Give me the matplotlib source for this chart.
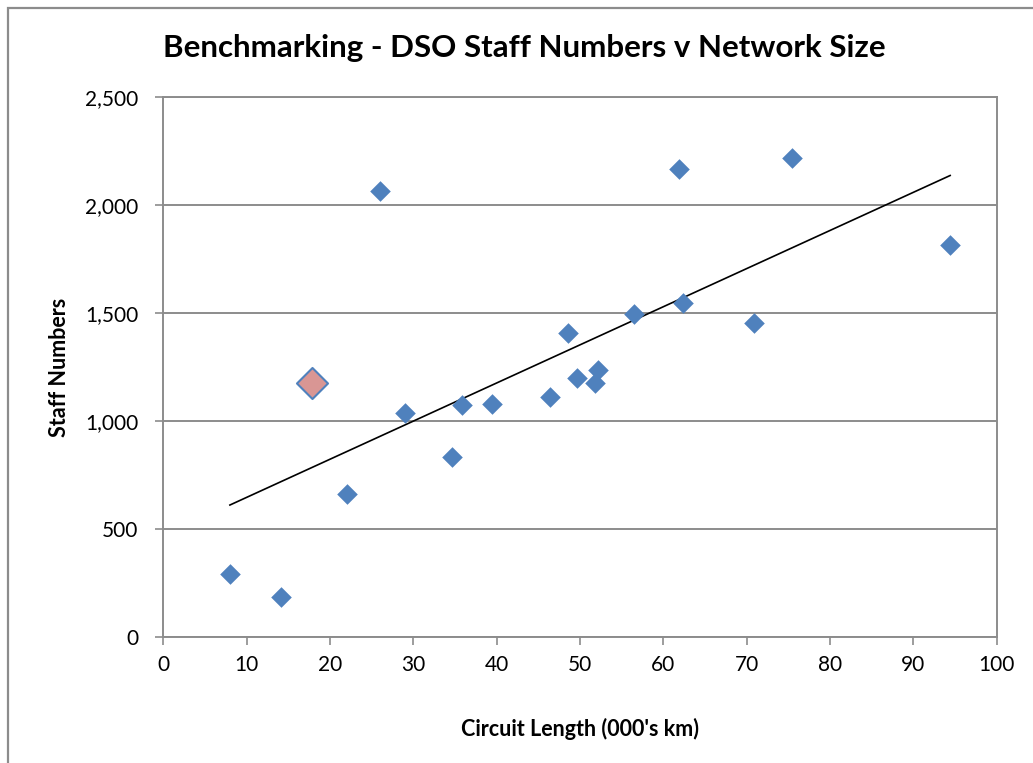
import matplotlib.pyplot as plt
import numpy as np
from matplotlib.patches import Rectangle

# circuit length (000's km) and staff numbers
circuit_km = [8.0, 14.1, 22.0, 26.0, 29.0, 34.65, 35.85, 39.5, 46.4, 48.5,
              49.6, 51.8, 52.1, 56.5, 61.9, 62.35, 70.9, 75.4, 94.4]
staff = [292, 187, 665, 2065, 1036, 835, 1074, 1079, 1110, 1408,
         1202, 1175, 1236, 1498, 2168, 1548, 1455, 2221, 1818]

# highlighted DSO
hl_km = [17.8]
hl_staff = [1175]

x_ticks = list(range(0, 101, 10))
y_ticks = [0, 500, 1000, 1500, 2000, 2500]
y_labels = ['0', '500', '1,000', '1,500', '2,000', '2,500']

plt.rcParams['font.family'] = ['Lato', 'DejaVu Sans']
grey = '#8c8c8c'
blue = '#4f81bd'

fig = plt.figure(figsize=(10.33, 7.63), dpi=100)
ax = fig.add_axes([0.158, 0.165, 0.807, 0.7075])

# outer chart border
fig.patches.append(Rectangle((8 / 1033, -0.01), 1.05, 1 - 8 / 763 + 0.01,
                             transform=fig.transFigure, fill=False,
                             edgecolor=grey, lw=1.6))

ax.scatter(circuit_km, staff, marker='D', s=110, color=blue, zorder=3, lw=0)
ax.scatter(hl_km, hl_staff, marker='D', s=250, facecolor='#d99694',
           edgecolor=blue, lw=1.5, zorder=3)

# linear trendline over all points
all_x = np.array(circuit_km + hl_km)
all_y = np.array(staff + hl_staff)
k, c = np.polyfit(all_x, all_y, 1)
tx = np.array([all_x.min(), all_x.max()])
ax.plot(tx, k * tx + c, color='black', lw=1.2, zorder=2)

ax.set_xlim(0, 100)
ax.set_ylim(0, 2500)
ax.set_xticks(x_ticks)
ax.set_yticks(y_ticks)
ax.set_yticklabels(y_labels)
ax.yaxis.grid(True, color=grey, lw=1.4)
ax.set_axisbelow(True)
for s in ax.spines.values():
    s.set_color(grey)
    s.set_linewidth(1.4)
ax.tick_params(axis='y', length=6, width=1.2, color=grey, pad=12, labelsize=15)
ax.tick_params(axis='x', length=6, width=1.2, color=grey, pad=7, labelsize=15)

ax.set_xlabel("Circuit Length (000's km)", fontsize=15.5, fontweight='bold', labelpad=31)
ax.set_ylabel('Staff Numbers', fontsize=15.5, fontweight='bold', labelpad=11)
fig.text(0.508, 0.937, 'Benchmarking - DSO Staff Numbers v Network Size',
         ha='center', va='center', fontsize=22.5, fontweight='bold')

fig.savefig('out.png', dpi=100)
